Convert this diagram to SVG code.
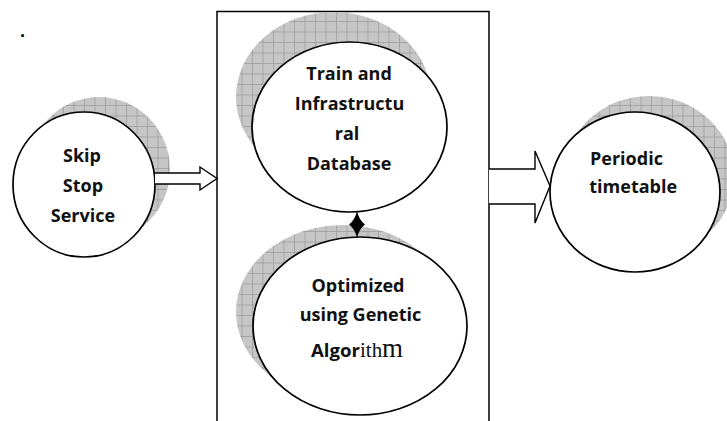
<svg xmlns="http://www.w3.org/2000/svg" width="727" height="421" viewBox="0 0 727 421">
<defs>
<pattern id="hatch" width="10.5" height="10.5" patternUnits="userSpaceOnUse">
<rect width="10.5" height="10.5" fill="#c6c6c6"/>
<path d="M0,0.4 H10.5 M0.4,0 V10.5" stroke="#9a9a9a" stroke-width="0.8"/>
</pattern>
<style>
.shadow{fill:url(#hatch);stroke:none}
.node{fill:#fff;stroke:#000;stroke-width:1.7}
.lbl{font-family:"Open Sans","Liberation Sans",Arial,sans-serif;font-weight:bold;font-size:18px;fill:#111}
.ser{font-family:"Liberation Serif","Times New Roman",serif;fill:#111}
.blk{fill:#fff;stroke:#000;stroke-width:1.4;stroke-linejoin:miter}
</style>
</defs>
<rect width="727" height="421" fill="#fff"/>
<text x="20" y="37" style="font-family:'Liberation Sans',Arial,sans-serif;font-size:18px;font-weight:bold">.</text>

<g id="frame">
<rect x="217" y="11.5" width="272" height="420" fill="none" stroke="#000" stroke-width="1.5"/>
</g>

<g id="node-skip">
<ellipse class="shadow" cx="99" cy="169.5" rx="71" ry="72.5"/>
<ellipse class="node" cx="84" cy="184.5" rx="71" ry="72.5"/>
<text class="lbl" text-anchor="middle" x="82" y="162">Skip</text>
<text class="lbl" text-anchor="middle" x="83" y="192">Stop</text>
<text class="lbl" text-anchor="middle" x="83" y="222">Service</text>
</g>

<g id="node-database">
<ellipse class="shadow" cx="333.5" cy="97" rx="97.5" ry="85"/>
<ellipse class="node" cx="349.5" cy="127" rx="97.5" ry="85"/>
<text class="lbl" text-anchor="middle" x="349" y="80">Train and</text>
<text class="lbl" text-anchor="middle" x="349.5" y="110">Infrastructu</text>
<text class="lbl" text-anchor="middle" x="347" y="140">ral</text>
<text class="lbl" text-anchor="middle" x="349" y="170">Database</text>
</g>

<g id="node-ga">
<ellipse class="shadow" cx="343" cy="312" rx="107" ry="87"/>
<ellipse class="node" cx="360" cy="326" rx="107" ry="89"/>
<text class="lbl" text-anchor="middle" x="358" y="292">Optimized</text>
<text class="lbl" text-anchor="middle" x="360.5" y="321">using Genetic</text>
<text y="357"><tspan class="lbl" x="311" textLength="49" lengthAdjust="spacingAndGlyphs">Algor</tspan><tspan class="ser" x="360" style="font-size:21px">ith</tspan><tspan class="ser" x="382" style="font-size:27px">m</tspan></text>
</g>

<g id="node-timetable">
<ellipse class="shadow" cx="649" cy="176" rx="85" ry="80"/>
<ellipse class="node" cx="635" cy="192" rx="85" ry="80"/>
<text class="lbl" x="590" y="165">Periodic</text>
<text class="lbl" x="589.3" y="193">timetable</text>
</g>

<g id="connectors">
<path class="blk" d="M155,173 H200 V167 L217,178.5 L200,190 V184 H155"/>
<path class="blk" d="M489,169 H535 V151 L550,186 L535,223 V204 H489"/>
<path d="M357,211 Q359,220 365,224.5 Q359,229 357,238 Q355,229 349,224.5 Q355,220 357,211 Z" fill="#000"/>
</g>
</svg>
